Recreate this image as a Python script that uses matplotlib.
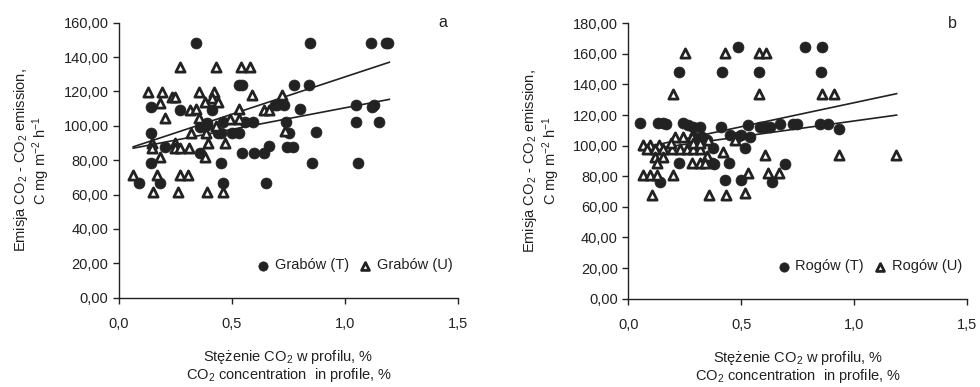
import matplotlib
matplotlib.use("Agg")
import matplotlib.pyplot as plt
from matplotlib.ticker import FuncFormatter, MultipleLocator

plt.rcParams["font.family"] = ["Liberation Sans", "DejaVu Sans"]
plt.rcParams["mathtext.fontset"] = "custom"
plt.rcParams["mathtext.rm"] = "Liberation Sans"
plt.rcParams["mathtext.default"] = "regular"

INK = "#222222"

# --- panel a: Grabów ---
grab_t_x = [0.342, 0.845, 1.113, 1.18, 1.19,
            0.53, 0.545, 0.774, 0.842,
            0.142, 0.27, 0.41, 0.69, 0.70, 0.73, 0.80, 1.05, 1.12, 1.13,
            1.049, 1.149, 0.739, 0.557, 0.594, 0.462, 0.39, 0.358, 0.388,
            0.142, 0.44, 0.45, 0.50, 0.53, 0.75, 0.87,
            0.204, 0.665, 0.742, 0.77,
            0.358, 0.546, 0.597, 0.641,
            0.14, 0.451, 0.853, 1.059,
            0.09, 0.18, 0.46, 0.65]
grab_t_y = [148, 148, 148, 148, 148,
            123.7, 123.7, 123.7, 123.7,
            110.8, 109.5, 109, 112, 112, 112, 109.6, 112, 111, 112,
            102, 102, 102, 102, 102, 102.4, 101.8, 99.5, 100.5,
            95.6, 95.6, 96, 96, 96, 96, 96.6,
            87.8, 88, 87.8, 87.8,
            84.4, 84, 84, 84,
            78.5, 78.5, 78.2, 78.2,
            66.5, 66.5, 66.5, 66.5]
grab_u_x = [0.27, 0.43, 0.54, 0.58,
            0.13, 0.19, 0.355, 0.42,
            0.233, 0.25, 0.18, 0.38, 0.41, 0.44,
            0.587, 0.72,
            0.204, 0.314, 0.34, 0.53, 0.64, 0.665,
            0.49, 0.53, 0.355,
            0.32, 0.385, 0.43, 0.735,
            0.147, 0.25, 0.395, 0.47,
            0.145, 0.25, 0.27, 0.31,
            0.18, 0.38,
            0.063, 0.17, 0.27, 0.306,
            0.152, 0.26, 0.39, 0.46]
grab_u_y = [134.4, 134.4, 134.4, 134.4,
            119.8, 119.8, 119.8, 119.8,
            116.6, 116.6, 113, 114, 116, 114,
            118, 118,
            104.4, 109, 110, 110, 109, 109,
            104, 104, 104.4,
            96, 96, 100, 97,
            90, 90, 90, 90,
            87, 87, 87, 87,
            82, 82,
            71.4, 71.4, 71.4, 71.4,
            61.7, 61.7, 61.7, 61.7]
grab_trend_x = [0.063, 1.196]
grab_trend1_y = [87.8, 137.0]
grab_trend2_y = [87.0, 115.4]

# --- panel b: Rogów ---
rog_t_x = [0.487, 0.782, 0.856,
           0.226, 0.413, 0.58, 0.853,
           0.052, 0.133, 0.155, 0.167, 0.24, 0.265, 0.288, 0.317, 0.409,
           0.531, 0.583, 0.605, 0.627, 0.671, 0.73, 0.745, 0.848, 0.885, 0.932,
           0.29, 0.325, 0.347, 0.45, 0.48, 0.50, 0.54,
           0.376, 0.516,
           0.226, 0.369, 0.38, 0.447, 0.693,
           0.14, 0.428, 0.50, 0.637]
rog_t_y = [164.5, 164.5, 164.5,
           148.4, 148.4, 148.4, 148.4,
           115, 115, 115, 114, 115, 113.5, 112.5, 112, 112,
           113.5, 112.5, 112.5, 112.5, 114.5, 114, 114, 114.5, 114.5, 111,
           106, 106, 103.7, 107, 106, 107, 106,
           98.3, 98.3,
           88.5, 88.5, 88, 88.5, 87.8,
           76.5, 77.6, 77.6, 76.5]
rog_u_x = [0.25, 0.43, 0.58, 0.61,
           0.2, 0.58, 0.856, 0.91,
           0.605, 0.934, 1.184,
           0.066, 0.096, 0.137,
           0.207, 0.243, 0.28, 0.354,
           0.081, 0.118, 0.155, 0.192, 0.229, 0.258, 0.288, 0.317,
           0.19, 0.288, 0.317, 0.42, 0.47,
           0.118, 0.155, 0.35,
           0.125, 0.28, 0.317, 0.34,
           0.066, 0.096, 0.125, 0.2, 0.531, 0.62, 0.665,
           0.103, 0.357, 0.434, 0.516]
rog_u_y = [160.6, 160.6, 160.6, 160.6,
           134, 134, 134, 134,
           94, 94, 94,
           100.6, 100.6, 100.6,
           106, 106, 106, 103.4,
           97.8, 97.8, 97.8, 97.8, 97.8, 97.8, 97.8, 97.8,
           101.5, 101.5, 101.5, 96, 104,
           92.8, 92.8, 93,
           88.5, 88.5, 88.5, 88.5,
           80.8, 80.8, 80.8, 80.8, 82, 82, 82,
           67.8, 67.8, 67.8, 68.9]
rog_trend_x = [0.052, 1.187]
rog_trend1_y = [98.3, 134.0]
rog_trend2_y = [96.8, 120.0]

x_label = "Stężenie CO$_2$ w profilu, %\nCO$_2$ concentration  in profile, %"
y_label = "Emisja CO$_2$ - CO$_2$ emission,\nC mg m$^{-2}$ h$^{-1}$"

fig = plt.figure(figsize=(9.8, 3.87), dpi=100, facecolor="white")
ax_a = fig.add_axes([0.1214, 0.2307, 0.346, 0.7106])
ax_b = fig.add_axes([0.6411, 0.2282, 0.346, 0.7116])

panels = [
    (ax_a, grab_t_x, grab_t_y, grab_u_x, grab_u_y, grab_trend_x,
     grab_trend1_y, grab_trend2_y, 160, "Grabów", "a"),
    (ax_b, rog_t_x, rog_t_y, rog_u_x, rog_u_y, rog_trend_x,
     rog_trend1_y, rog_trend2_y, 180, "Rogów", "b"),
]

for ax, tx, ty, ux, uy, lx, l1, l2, ymax, site, letter in panels:
    ax.plot(lx, l1, color=INK, lw=1.2, zorder=2)
    ax.plot(lx, l2, color=INK, lw=1.2, zorder=2)
    ax.scatter(tx, ty, s=62, marker="o", color=INK, edgecolors=INK,
               linewidths=0.5, zorder=3, label=f"{site} (T)")
    ax.scatter(ux, uy, s=44, marker="^", facecolors="white", edgecolors=INK,
               linewidths=2.0, zorder=4, label=f"{site} (U)")

    ax.set_xlim(0, 1.5)
    ax.set_ylim(0, ymax)
    ax.xaxis.set_major_locator(MultipleLocator(0.5))
    ax.yaxis.set_major_locator(MultipleLocator(20))
    ax.xaxis.set_major_formatter(FuncFormatter(lambda v, p: f"{v:.1f}".replace(".", ",")))
    ax.yaxis.set_major_formatter(FuncFormatter(lambda v, p: f"{v:.2f}".replace(".", ",")))
    for side in ("top", "right"):
        ax.spines[side].set_visible(False)
    for side in ("left", "bottom"):
        ax.spines[side].set_color(INK)
        ax.spines[side].set_linewidth(1.0)
    ax.tick_params(direction="out", length=4, width=1.0, colors=INK,
                   labelsize=10.5, labelcolor=INK)
    ax.tick_params(axis="x", pad=10)

    ax.set_xlabel(x_label, fontsize=10.5, color=INK, labelpad=12, linespacing=1.05)
    ax.set_ylabel(y_label, fontsize=10.5, color=INK, labelpad=8, linespacing=1.05)

    ax.text(0.955, 1.0, letter, transform=ax.transAxes, fontsize=11.5,
            color=INK, ha="center", va="center")

    ax.legend(loc="lower right", bbox_to_anchor=(1.01, 0.06), ncol=2, frameon=False,
              fontsize=10.5, handletextpad=0.0, columnspacing=0.3,
              handlelength=1.6, markerscale=0.85,
              borderaxespad=0.2, labelcolor=INK, scatterpoints=1)

fig.savefig("out.png", dpi=100, facecolor="white")
